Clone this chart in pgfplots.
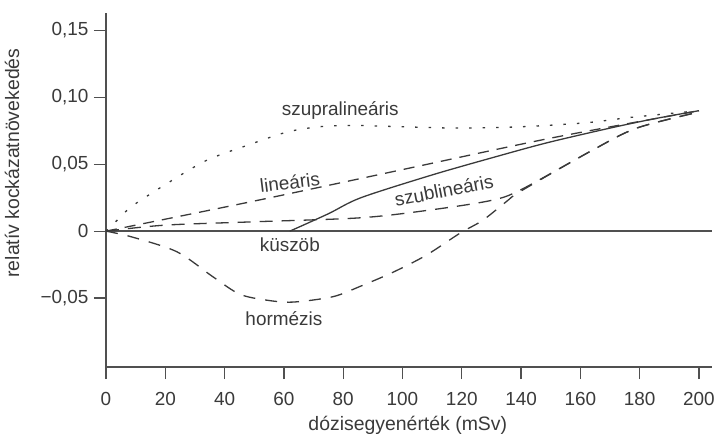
\documentclass[border=0pt]{standalone}
\usepackage{fontspec}
\setmainfont{Liberation Sans}
\usepackage{pgfplots}
\pgfplotsset{compat=1.18}
\definecolor{ink}{HTML}{3A3A3A}
\definecolor{axc}{HTML}{505050}
\begin{document}
\begin{tikzpicture}
\path[use as bounding box] (0,0) rectangle (715bp,434bp);
\begin{axis}[
  at={(106bp,67bp)}, anchor=south west,
  scale only axis, width=606bp, height=354bp,
  xmin=0, xmax=204.4, ymin=-0.1015, ymax=0.163,
  axis lines*=left,
  clip=false,
  /pgf/number format/assume math mode=true,
  xtick={0,20,...,200},
  ytick={-0.05,0,0.05,0.1,0.15},
  yticklabels={{−0,05},{0},{0,05},{0,10},{0,15}},
  tick align=outside,
  major tick length=12bp,
  tick style={axc, line width=1.3bp},
  axis line style={axc, line width=1.6bp},
  tick label style={font=\fontsize{19}{22}\selectfont, text=ink},
  yticklabel style={xshift=-2bp},
  xticklabel style={yshift=-10bp},
  xlabel={dózisegyenérték (mSv)},
  ylabel={relatív kockázatnövekedés},
  label style={font=\fontsize{19.5}{22}\selectfont, text=ink},
  xlabel style={at={(axis description cs:0.498,0)}, anchor=center, yshift=-58bp},
  ylabel style={at={(axis description cs:-0.155,0.576)}, anchor=center},
  every axis plot/.append style={ink, line width=1.3bp, smooth, tension=0.5},
]
% y = 0 line
\addplot[axc, line width=1.6bp, sharp plot] coordinates {(0,0) (204.4,0)};
% szupralinearis (dotted)
\addplot[dash pattern=on 2.5bp off 11bp] coordinates {
 (0,0) (3.7,0.008) (9,0.019) (21.6,0.037) (34,0.053) (47.5,0.064) (61,0.074)
 (72,0.078) (83,0.079) (100,0.078) (119,0.077) (140,0.078) (162,0.081)
 (177,0.085) (200,0.09)};
% linearis (dashed)
\addplot[dash pattern=on 11bp off 8bp] coordinates {
 (0,0) (50,0.0225) (100,0.046) (150,0.0695) (200,0.09)};
% kuszob (solid)
\addplot[solid] coordinates {
 (62,0) (75,0.013) (86,0.025) (110,0.042) (130.5,0.055) (148.7,0.066)
 (170,0.077) (185,0.084) (200,0.09)};
% szublinearis (long dashes)
\addplot[dash pattern=on 13bp off 9bp] coordinates {
 (0,0) (20,0.0045) (50,0.007) (86,0.010) (110,0.016) (130,0.023) (140,0.031)
 (164,0.0604) (179,0.077) (200,0.089)};
% hormezis (dashed)
\addplot[dash pattern=on 12bp off 10bp] coordinates {
 (0,0) (9,-0.0045) (24,-0.0155) (36,-0.034) (45,-0.047) (54,-0.0515)
 (63,-0.053) (76.5,-0.049) (86,-0.041) (97,-0.0305) (108,-0.018)
 (119.4,-0.0015) (127,0.008) (135,0.022) (140,0.030)
 (164,0.0604) (179,0.077) (200,0.089)};
\begin{scope}[every node/.style={font=\fontsize{19}{22}\selectfont, text=ink}]
\node at (axis cs:79,0.0905) {szupralineáris};
\node[rotate=7] at (axis cs:62,0.0365) {lineáris};
\node[rotate=11] at (axis cs:114,0.0305) {szublineáris};
\node at (axis cs:62,-0.0105) {küszöb};
\node at (axis cs:60,-0.065) {hormézis};
\end{scope}
\end{axis}
\end{tikzpicture}
\end{document}
